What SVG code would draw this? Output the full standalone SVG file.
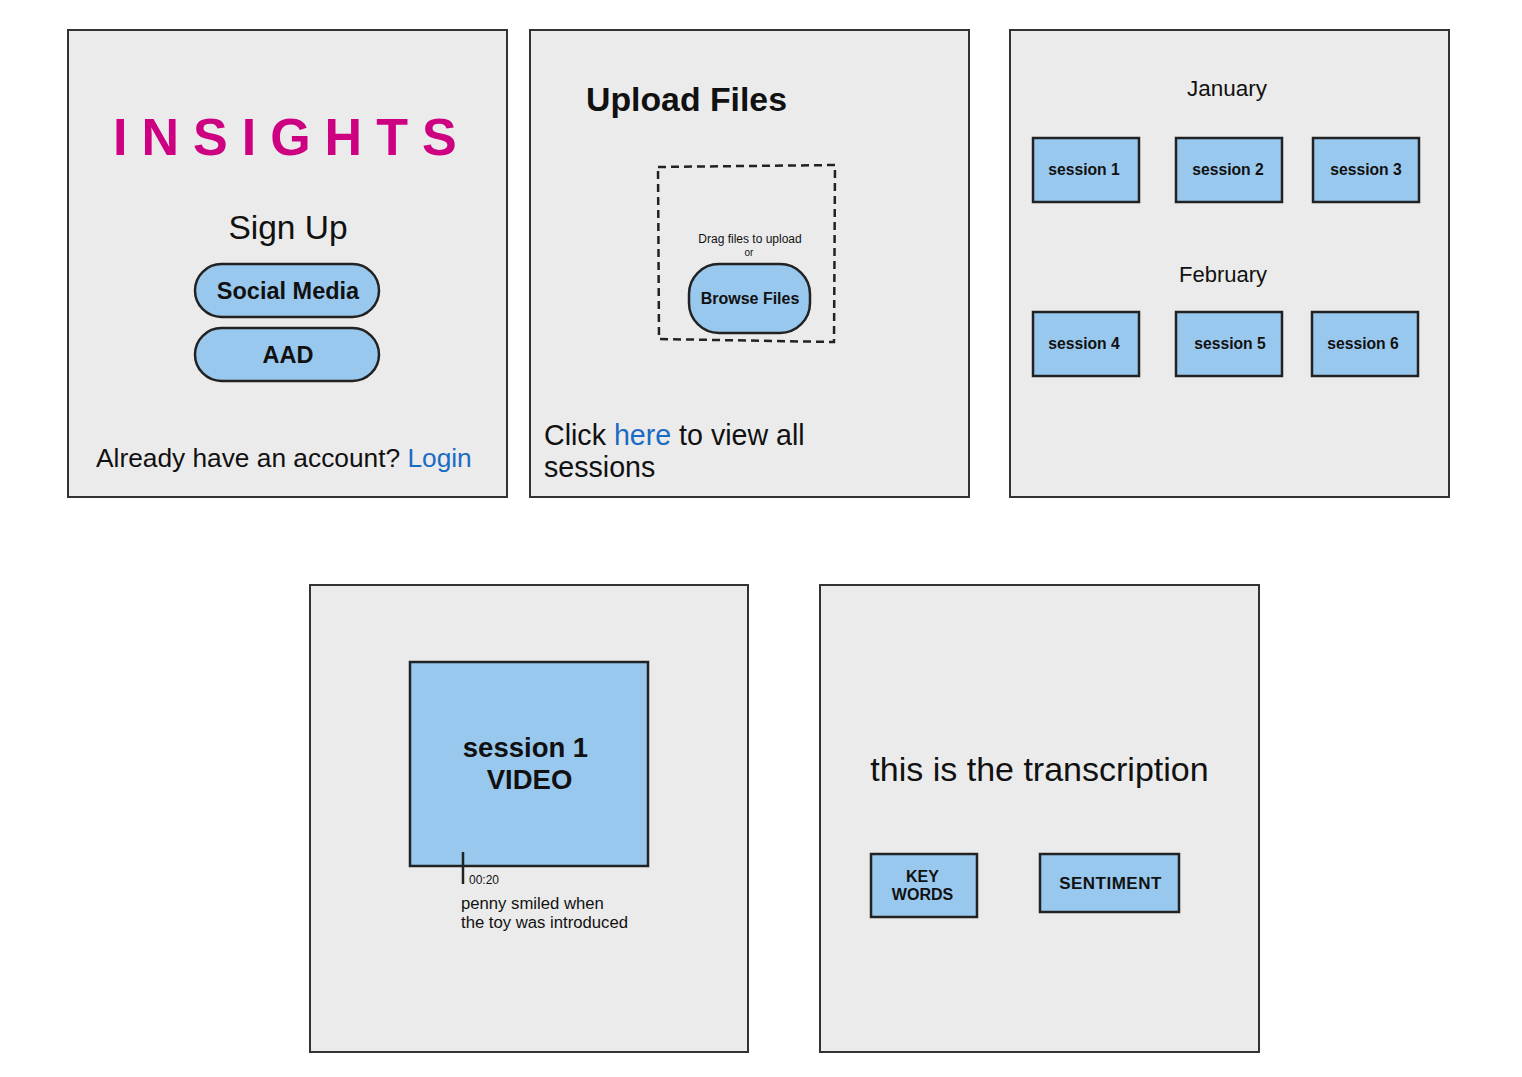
<svg xmlns="http://www.w3.org/2000/svg" width="1522" height="1077" viewBox="0 0 1522 1077">
<style>
text{font-family:"Liberation Sans",Arial,sans-serif;fill:#111}
.panel{fill:#ebebeb;stroke:#333;stroke-width:2}
.btn{fill:#99c8ee;stroke:#222;stroke-width:2.5}
.box{fill:#99c8ee;stroke:#222;stroke-width:2.5}
.b{font-weight:bold}
.c{text-anchor:middle}
.link{fill:#1a6bc4}
</style>
<rect x="0" y="0" width="1522" height="1077" fill="#ffffff"/>
<g id="connectors"></g>

<g id="panel-signup">
<rect class="panel" x="68" y="30" width="439" height="467"/>
<text x="113" y="155" font-size="52" class="b" style="fill:#cc0080" letter-spacing="14">INSIGHTS</text>
<text x="288" y="239" font-size="33.5" class="c">Sign Up</text>
</g>
<g id="btn-social">
<rect class="btn" x="195" y="264" width="184" height="53" rx="26.5"/>
<text x="288" y="299" font-size="23.5" class="b c">Social Media</text>
</g>
<g id="btn-aad">
<rect class="btn" x="195" y="328" width="184" height="53" rx="26.5"/>
<text x="288" y="363" font-size="23.5" class="b c">AAD</text>
</g>
<g id="login-text">
<text x="96" y="467" font-size="26.3">Already have an account? <tspan class="link">Login</tspan></text>
</g>

<g id="panel-upload">
<rect class="panel" x="530" y="30" width="439" height="467"/>
<text x="586" y="111" font-size="33.8" class="b">Upload Files</text>
<path d="M658,167 L835,165 L834,342 L659,339 Z" fill="none" stroke="#222" stroke-width="2.5" stroke-dasharray="8,5"/>
<text x="750" y="243" font-size="12" class="c">Drag files to upload</text>
<text x="749" y="256" font-size="10" class="c">or</text>
<text x="544" y="445" font-size="28.6">Click <tspan class="link">here</tspan> to view all</text>
<text x="544" y="477" font-size="28.6">sessions</text>
</g>
<g id="btn-browse">
<rect class="btn" x="689" y="264" width="121" height="69" rx="30"/>
<text x="750" y="304" font-size="16" class="b c">Browse Files</text>
</g>

<g id="panel-sessions">
<rect class="panel" x="1010" y="30" width="439" height="467"/>
<text x="1227" y="96" font-size="22.5" class="c">January</text>
<text x="1223" y="282" font-size="22" class="c">February</text>
</g>
<g id="session-1"><rect class="box" x="1033" y="138" width="106" height="64"/><text x="1084" y="175" font-size="15.7" class="b c">session 1</text></g>
<g id="session-2"><rect class="box" x="1176" y="138" width="106" height="64"/><text x="1228" y="175" font-size="15.7" class="b c">session 2</text></g>
<g id="session-3"><rect class="box" x="1313" y="138" width="106" height="64"/><text x="1366" y="175" font-size="15.7" class="b c">session 3</text></g>
<g id="session-4"><rect class="box" x="1033" y="312" width="106" height="64"/><text x="1084" y="349" font-size="15.7" class="b c">session 4</text></g>
<g id="session-5"><rect class="box" x="1176" y="312" width="106" height="64"/><text x="1230" y="349" font-size="15.7" class="b c">session 5</text></g>
<g id="session-6"><rect class="box" x="1312" y="312" width="106" height="64"/><text x="1363" y="349" font-size="15.7" class="b c">session 6</text></g>

<g id="panel-video">
<rect class="panel" x="310" y="585" width="438" height="467"/>
</g>
<g id="video">
<rect class="box" x="410" y="662" width="238" height="204"/>
<text x="525.5" y="757" font-size="27.5" class="b c">session 1</text>
<text x="529.5" y="789" font-size="27.5" class="b c">VIDEO</text>
<line x1="463" y1="852" x2="463" y2="884" stroke="#222" stroke-width="2.5"/>
<text x="469" y="884" font-size="12">00:20</text>
<text x="461" y="909" font-size="16.7">penny smiled when</text>
<text x="461" y="928" font-size="16.7">the toy was introduced</text>
</g>

<g id="panel-transcription">
<rect class="panel" x="820" y="585" width="439" height="467"/>
<text x="1039.5" y="781" font-size="34" class="c">this is the transcription</text>
</g>
<g id="keywords">
<rect class="box" x="871" y="854" width="106" height="63"/>
<text x="922.5" y="882" font-size="16" class="b c">KEY</text>
<text x="922.5" y="900" font-size="16" class="b c">WORDS</text>
</g>
<g id="sentiment">
<rect class="box" x="1040" y="854" width="139" height="58"/>
<text x="1110.5" y="889" font-size="17" class="b c" letter-spacing="0.5">SENTIMENT</text>
</g>
</svg>
